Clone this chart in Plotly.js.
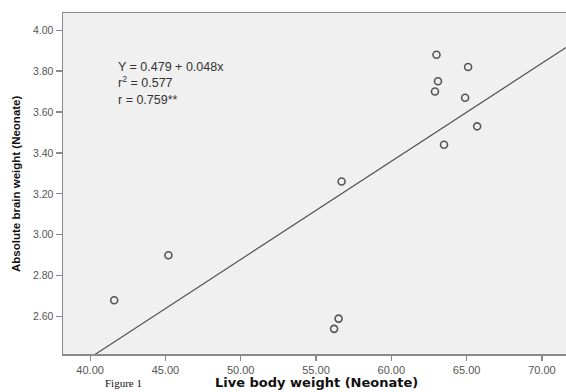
<!DOCTYPE html>
<html>
<head>
<meta charset="utf-8">
<script src="https://cdn.plot.ly/plotly-3.0.1.min.js"></script>
<style>html,body{margin:0;padding:0;background:#fff;}#chart{width:566px;height:392px;}</style>
</head>
<body>
<div id="chart"></div>
<script>
// Data
const bodyWeight = [41.6, 45.2, 56.7, 56.5, 56.2, 63.0, 65.1, 63.1, 62.9, 64.9, 65.7, 63.5];
const brainWeight = [2.68, 2.90, 3.26, 2.59, 2.54, 3.88, 3.82, 3.75, 3.70, 3.67, 3.53, 3.44];
const fitIntercept = 0.479;
const fitSlope = 0.048;
const xTickVals = [40, 45, 50, 55, 60, 65, 70];
const yTickVals = [2.6, 2.8, 3.0, 3.2, 3.4, 3.6, 3.8, 4.0];
const statLines = ["Y = 0.479 + 0.048x", "r<sup>2</sup> = 0.577", "r = 0.759**"];

const xRange = [38.2, 71.6];
const yRange = [2.417, 4.084];
const fitX = [xRange[0], xRange[1]];
const fitY = fitX.map(v => fitIntercept + fitSlope * v);

const traces = [
  {
    x: fitX, y: fitY, mode: 'lines', type: 'scatter',
    line: {color: '#555', width: 1.2}, hoverinfo: 'skip', showlegend: false
  },
  {
    x: bodyWeight, y: brainWeight, mode: 'markers', type: 'scatter',
    marker: {symbol: 'circle-open', size: 7, color: '#555', line: {width: 1.6, color: '#555'}},
    showlegend: false
  }
];

const annotations = [{
  text: statLines.join('<br>'), xref: 'paper', yref: 'paper', x: 0.105, y: (354 - 83.3) / 341,
  xanchor: 'left', yanchor: 'middle', align: 'left', showarrow: false,
  font: {family: 'Liberation Sans, Arial, sans-serif', size: 12.5, color: '#333'}
}];
annotations.push({
  text: '<b>Live body weight (Neonate)</b>', xref: 'paper', yref: 'paper',
  x: (316 - 63) / 503, y: -(382 - 354) / 341, xanchor: 'center', yanchor: 'middle', showarrow: false,
  font: {family: 'DejaVu Sans, Verdana, sans-serif', size: 13, color: '#111'}
});
annotations.push({
  text: '<b>Absolute brain weight (Neonate)</b>', xref: 'paper', yref: 'paper',
  x: (16 - 63) / 503, y: (354 - 184) / 341, xanchor: 'center', yanchor: 'middle',
  textangle: -90, showarrow: false,
  font: {family: 'Liberation Sans, Arial, sans-serif', size: 11.5, color: '#111'}
});
annotations.push({
  text: 'Figure 1', xref: 'paper', yref: 'paper',
  x: (103 - 63) / 503, y: -(391 - 354) / 341, xanchor: 'left', yanchor: 'bottom', showarrow: false,
  font: {family: 'Liberation Serif, Times New Roman, serif', size: 11, color: '#111'}
});

const layout = {
  width: 566, height: 392,
  margin: {l: 63, r: 0, t: 13, b: 38, pad: 0},
  paper_bgcolor: '#ffffff', plot_bgcolor: '#f0f0f0',
  showlegend: false,
  xaxis: {
    range: xRange, tickvals: xTickVals, tickformat: '.2f',
    showgrid: false, zeroline: false,
    showline: true, mirror: true, linecolor: '#8a8a8a', linewidth: 1.5,
    ticks: 'outside', ticklen: 5, tickcolor: '#8a8a8a', tickwidth: 1.2,
    tickfont: {family: 'Liberation Sans, Arial, sans-serif', size: 11, color: '#555'}
  },
  yaxis: {
    range: yRange, tickvals: yTickVals, tickformat: '.2f',
    showgrid: false, zeroline: false,
    showline: true, linecolor: '#8a8a8a', linewidth: 1.5,
    ticks: 'outside', ticklen: 6, tickcolor: '#8a8a8a', tickwidth: 1.2,
    tickfont: {family: 'Liberation Sans, Arial, sans-serif', size: 10.5, color: '#555'}
  },
  annotations: annotations
};

Plotly.newPlot('chart', traces, layout, {staticPlot: true, displayModeBar: false});
</script>
</body>
</html>
